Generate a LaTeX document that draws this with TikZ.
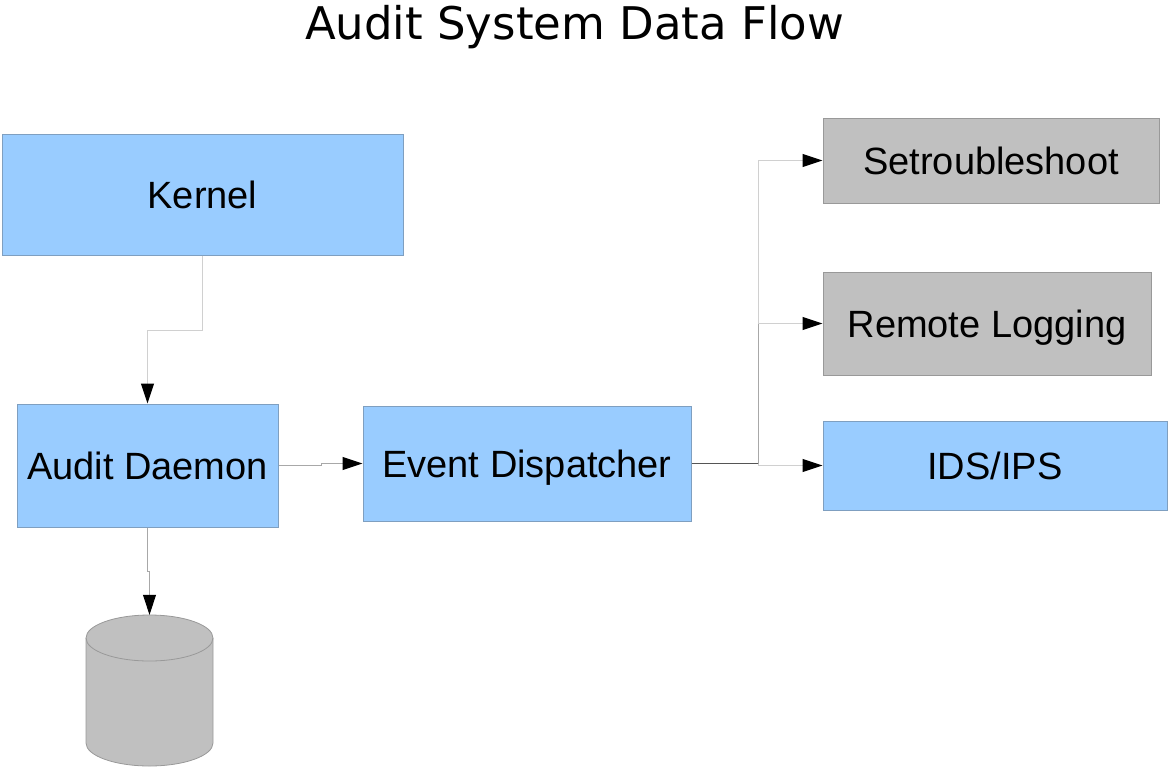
\documentclass[tikz,border=0pt]{standalone}
\usepackage{fontspec}
\setmainfont{Liberation Sans}
\newfontfamily\titlefont{DejaVu Sans}
\usetikzlibrary{arrows.meta}
\definecolor{boxblue}{HTML}{99CCFF}
\definecolor{boxblueline}{HTML}{7F9FC0}
\definecolor{boxgray}{HTML}{C0C0C0}
\definecolor{boxgrayline}{HTML}{999999}
\definecolor{connlight}{HTML}{D0D0D0}
\definecolor{connmid}{HTML}{A8A8A8}
\definecolor{conndark}{HTML}{555555}
\tikzset{
  boxtext/.style={inner sep=0pt, text height=27.2pt, text depth=0pt,
    font=\fontsize{38}{46}\selectfont},
  bluebox/.style={boxtext, draw=boxblueline, fill=boxblue, line width=1pt},
  graybox/.style={boxtext, draw=boxgrayline, fill=boxgray, line width=1pt},
  conn/.style={line width=1pt, draw=connlight},
  tip/.style={-{Triangle[length=20pt,width=13pt,color=black]}},
}
\begin{document}
\begin{tikzpicture}[x=1pt,y=-1pt]
\useasboundingbox (0,0) rectangle (1170,769);
\node[anchor=base, font=\titlefont\fontsize{45}{54}\selectfont] (title) at (574.5,39) {Audit System Data Flow};

\node[bluebox, minimum width=401pt, minimum height=121pt] (kernel) at (202.5,194.5) {Kernel};
\node[bluebox, minimum width=261pt, minimum height=123pt] (daemon) at (147.5,465.5) {Audit Daemon};
\node[bluebox, minimum width=328pt, minimum height=115pt] (disp) at (527,463.5) {Event Dispatcher};
\node[graybox, minimum width=336pt, minimum height=85pt] (setr) at (991,160.5) {Setroubleshoot};
\node[graybox, minimum width=328pt, minimum height=103pt] (remote) at (987,323.5) {Remote Logging};
\node[bluebox, minimum width=344pt, minimum height=89pt] (ids) at (995,465.5) {IDS/IPS};

% cylinder (log storage)
\node[minimum width=127pt, minimum height=151pt, inner sep=0pt] (db) at (149.5,690.5) {};
\filldraw[fill=boxgray, draw=boxgrayline, line width=0.8pt]
  (86,638) -- (86,743) arc[start angle=180, end angle=0, x radius=63.5, y radius=23]
  -- (213,638) arc[start angle=0, end angle=-180, x radius=63.5, y radius=23] -- cycle;
\draw[draw=boxgrayline, line width=0.8pt] (86,638) arc[start angle=180, end angle=0, x radius=63.5, y radius=23];

% connectors
\draw[conn, tip] (kernel.south) -- ++(0,75) -| (daemon.north);
\draw[conn, draw=connmid, tip] (daemon.east) -- ++(43,0) |- (disp.west);
\draw[conn, draw=connmid, tip] (daemon.south) -- ++(0,44) -| (db.north);

\draw[line width=1pt, draw=conndark] (disp.east) -- ++(67,0) coordinate (hub);
\draw[conn, tip] (hub) |- (ids.west);
\draw[conn, draw=connmid] (hub) -- (hub |- remote.west) coordinate (hubmid);
\draw[conn, tip] (hubmid) -- (remote.west);
\draw[conn, tip] (hubmid) |- (setr.west);
\end{tikzpicture}
\end{document}
